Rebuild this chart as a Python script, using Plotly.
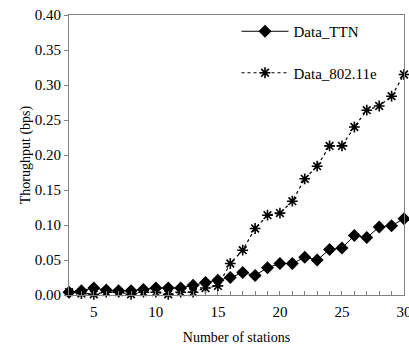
import plotly.graph_objects as go

stations = list(range(3, 31))
ttn = [0.004, 0.006, 0.010, 0.007, 0.006, 0.006, 0.008, 0.010, 0.010, 0.010,
       0.014, 0.018, 0.021, 0.025, 0.032, 0.028, 0.039, 0.045, 0.045, 0.054,
       0.050, 0.065, 0.067, 0.085, 0.082, 0.097, 0.099, 0.109]
e80211 = [0.004, 0.002, 0.001, 0.004, 0.004, 0.001, 0.004, 0.004, 0.001, 0.004,
          0.004, 0.010, 0.013, 0.045, 0.064, 0.095, 0.114, 0.117, 0.134, 0.166,
          0.184, 0.213, 0.213, 0.240, 0.264, 0.270, 0.284, 0.315]
x_ticks = [5, 10, 15, 20, 25, 30]
y_ticks = [0.0, 0.05, 0.10, 0.15, 0.20, 0.25, 0.30, 0.35, 0.40]

font = "Liberation Serif, Times New Roman, serif"

fig = go.Figure()
fig.add_trace(go.Scatter(
    x=stations, y=ttn, name="Data_TTN", mode="lines+markers",
    line=dict(color="black", width=1),
    marker=dict(symbol="diamond", size=10, color="black"),
    legendgroup="a", cliponaxis=False))
fig.add_trace(go.Scatter(
    x=stations, y=e80211, name="Data_802.11e", mode="lines+markers",
    line=dict(color="black", width=1.2, dash="3px,3px"),
    marker=dict(symbol="asterisk-open", size=9, color="black",
                line=dict(color="black", width=1.6)),
    legendgroup="b", cliponaxis=False))

fig.update_layout(
    width=409, height=345,
    margin=dict(l=69, r=5, t=15, b=50),
    paper_bgcolor="white", plot_bgcolor="white",
    font=dict(family=font, size=14, color="black"),
    showlegend=True,
    legend=dict(x=0.50, y=1.0, xanchor="left", yanchor="top",
                bgcolor="rgba(0,0,0,0)", font=dict(size=15),
                itemwidth=47, tracegroupgap=19, traceorder="grouped"),
    xaxis=dict(range=[3, 30], tickvals=x_ticks, ticks="inside", ticklen=4,
               tickcolor="#808080", showgrid=False, zeroline=False,
               showline=True, linecolor="#808080", linewidth=1, mirror=True,
               tickfont=dict(size=15), automargin=False, ticklabeloverflow="allow",
               ticklabelstandoff=3,
               minor=dict(dtick=1, ticks="inside", ticklen=4, tickcolor="#808080"),
               title=dict(text="Number of stations", font=dict(size=14), standoff=14)),
    yaxis=dict(range=[0, 0.40], tickvals=y_ticks, tickformat=".2f",
               ticks="outside", ticklen=4, tickcolor="#808080",
               showgrid=False, zeroline=False, automargin=False,
               showline=True, linecolor="#808080", linewidth=1, mirror=True,
               tickfont=dict(size=15),
               title=dict(text="Thorughput (bps)", font=dict(size=14), standoff=0)),
)

fig.write_html("out.html", config={"displayModeBar": False},
               post_script="document.body.style.margin='0';document.body.style.overflow='hidden';")
